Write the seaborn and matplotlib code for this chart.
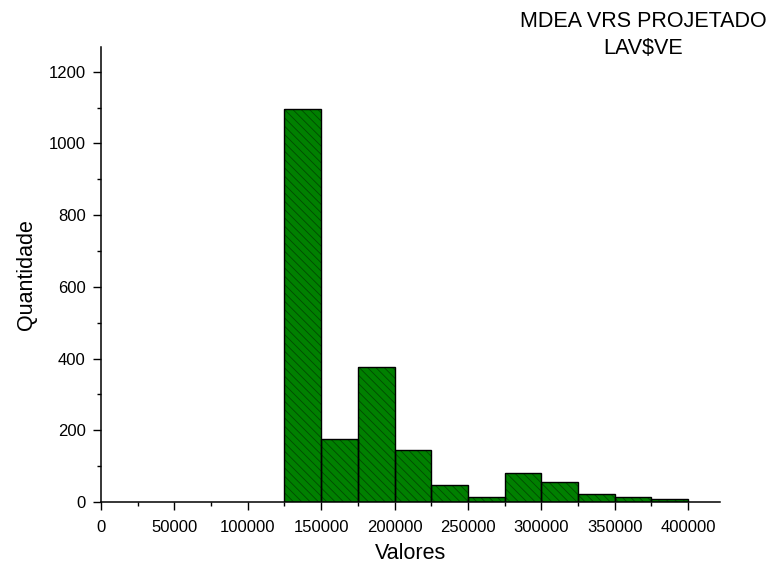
import numpy as np
import pandas as pd
import seaborn as sns
import matplotlib.pyplot as plt
from matplotlib.ticker import MultipleLocator

sns.set_style("ticks")
plt.rcParams['font.family'] = ['Liberation Sans', 'DejaVu Sans']
plt.rcParams['hatch.linewidth'] = 0.6
plt.rcParams['text.color'] = 'black'
plt.rcParams['axes.labelcolor'] = 'black'

# histogram data (bin edges and counts)
bin_edges = [125000, 150000, 175000, 200000, 225000, 250000, 275000,
             300000, 325000, 350000, 375000, 400000]
counts = [1097, 177, 377, 146, 46, 15, 81, 55, 21, 15, 9]

df = pd.DataFrame({
    "valor": [(a + b) / 2 for a, b in zip(bin_edges[:-1], bin_edges[1:])],
    "quantidade": counts,
})

fig = plt.figure(figsize=(7.71, 5.72), dpi=100)
ax = fig.add_axes([0.131, 0.1224, 0.803, 0.796])

# fill + hatch
sns.histplot(data=df, x="valor", weights="quantidade", bins=bin_edges,
             color="#008000", edgecolor="#004a00", hatch="\\\\\\\\",
             linewidth=0, alpha=1, ax=ax)
# outline
sns.histplot(data=df, x="valor", weights="quantidade", bins=bin_edges,
             fill=False, color="black", linewidth=1.0, ax=ax)

ax.set_xlim(0, 421800)
ax.set_ylim(0, 1270)
ax.xaxis.set_major_locator(MultipleLocator(50000))
ax.xaxis.set_minor_locator(MultipleLocator(25000))
ax.yaxis.set_major_locator(MultipleLocator(200))
ax.yaxis.set_minor_locator(MultipleLocator(100))
ax.tick_params(which="major", direction="out", length=6, width=1, labelsize=12, colors="black")
ax.tick_params(axis="x", which="major", pad=7)
ax.tick_params(axis="y", which="major", pad=5)
ax.tick_params(which="minor", direction="out", length=3, width=1, colors="black")
for s in ["top", "right"]:
    ax.spines[s].set_visible(False)
for s in ["left", "bottom"]:
    ax.spines[s].set_linewidth(1.1)
    ax.spines[s].set_color("black")

ax.set_xlabel("Valores", fontsize=15.5, labelpad=6)
ax.set_ylabel("Quantidade", fontsize=15.5, labelpad=8)

fig.text(0.834, 0.962, "MDEA VRS PROJETADO", ha="center", va="center", fontsize=15.5)
fig.text(0.834, 0.916, "LAV\\$VE", ha="center", va="center", fontsize=15.5)

fig.savefig("out.png", dpi=100)
